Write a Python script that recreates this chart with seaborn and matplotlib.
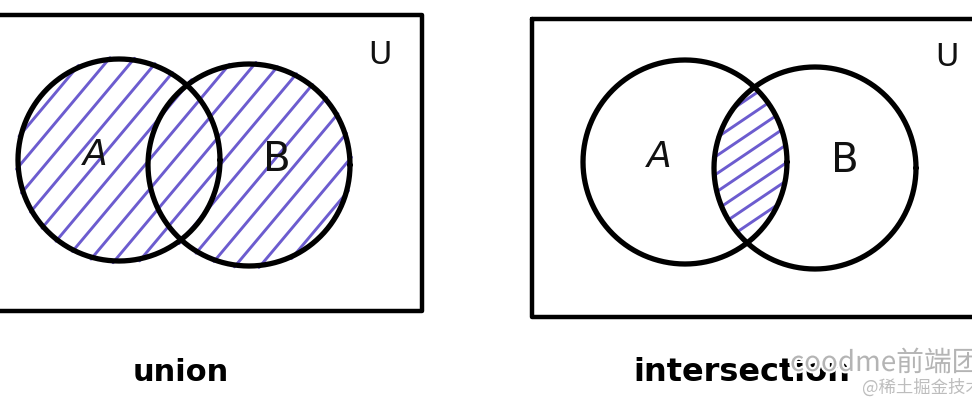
import numpy as np
import pandas as pd
import matplotlib.pyplot as plt
import matplotlib.patheffects as pe
import seaborn as sns

# --- diagram content (pixel units, y grows downwards) ---
PANELS = ['union', 'intersection']
SET_NAMES = ['A', 'B']
UNIVERSE = 'U'

# circle centres and radii, one pair per panel
CIRCLE_X = [[119, 249], [685, 815]]
CIRCLE_Y = [[161, 166], [163, 169]]
CIRCLE_R = [[101, 101], [102, 101]]

# universe rectangle per panel
RECT_LEFT = [-8, 532]
RECT_TOP = [16, 20]
RECT_RIGHT = [422, 995]
RECT_BOTTOM = [312, 318]

# label anchors
SET_LABEL_X = [[95, 277], [659, 845]]
SET_LABEL_Y = [[155, 160], [157, 161]]
U_LABEL_X = [380, 947]
U_LABEL_Y = [55, 58]
CAPTION_X = [181, 742]
CAPTION_Y = [373, 373]

WATERMARK = 'coodme前端团'
WATERMARK_SUB = '@稀土掘金技术'

HATCH = '#6c5ccf'

sns.set_theme(style='white')
plt.rcParams['font.family'] = ['DejaVu Sans', 'Noto Sans CJK SC']

fig = plt.figure(figsize=(9.72, 4.14), dpi=100)
ax = fig.add_axes([0, 0, 1, 1])

# outlines table: circles and rectangles as closed paths
rows = []
theta = np.linspace(0, 2 * np.pi, 361)
for p in range(len(PANELS)):
    for k in range(len(SET_NAMES)):
        xs = CIRCLE_X[p][k] + CIRCLE_R[p][k] * np.cos(theta)
        ys = CIRCLE_Y[p][k] + CIRCLE_R[p][k] * np.sin(theta)
        for i, (x, y) in enumerate(zip(xs, ys)):
            rows.append(('circle', f'c{p}{k}', i, x, y))
    rx = [RECT_LEFT[p], RECT_RIGHT[p], RECT_RIGHT[p], RECT_LEFT[p], RECT_LEFT[p]]
    ry = [RECT_TOP[p], RECT_TOP[p], RECT_BOTTOM[p], RECT_BOTTOM[p], RECT_TOP[p]]
    for i, (x, y) in enumerate(zip(rx, ry)):
        rows.append(('rect', f'r{p}', i, x, y))
outlines = pd.DataFrame(rows, columns=['kind', 'shape', 'order', 'x', 'y'])


def inside(p, k, x, y, pad=0.0):
    return (x - CIRCLE_X[p][k]) ** 2 + (y - CIRCLE_Y[p][k]) ** 2 <= (CIRCLE_R[p][k] + pad) ** 2


# hatching: union panel (steep lines, whole A ∪ B)
xs = np.arange(-20, 992, 0.5)
slope = np.tan(np.radians(50))
for c in np.arange(-200, 700, 25):
    ys = 160 - slope * (xs - c)
    m = inside(0, 0, xs, ys, 2) | inside(0, 1, xs, ys, 2)
    ax.plot(xs, np.where(m, ys, np.nan), color=HATCH, lw=2.1,
            solid_capstyle='round', zorder=1)

# hatching: intersection panel (shallower lines, only A ∩ B)
slope = np.tan(np.radians(34))
for c in np.arange(60, 380, 18):
    ys = c - slope * (xs - 700)
    m = inside(1, 0, xs, ys, 1) & inside(1, 1, xs, ys, 1)
    ax.plot(xs, np.where(m, ys, np.nan), color=HATCH, lw=2.1,
            solid_capstyle='round', zorder=1)

sns.lineplot(data=outlines[outlines.kind == 'rect'], x='x', y='y', units='shape',
             estimator=None, sort=False, color='black', linewidth=3.2,
             legend=False, ax=ax, zorder=2)
sns.lineplot(data=outlines[outlines.kind == 'circle'], x='x', y='y', units='shape',
             estimator=None, sort=False, color='black', linewidth=3.8,
             legend=False, ax=ax, zorder=3)

for p in range(len(PANELS)):
    for k, name in enumerate(SET_NAMES):
        ax.text(SET_LABEL_X[p][k], SET_LABEL_Y[p][k], name,
                fontsize=26 if name == 'A' else 29, style='italic' if name == 'A' else 'normal',
                ha='center', va='center', color='#111111', zorder=4)
    ax.text(U_LABEL_X[p], U_LABEL_Y[p], UNIVERSE, fontsize=23, ha='center', va='center',
            color='#111111', zorder=4)
    ax.text(CAPTION_X[p], CAPTION_Y[p], PANELS[p], fontsize=23 if p else 22,
            fontweight='bold', ha='center', va='center', color='black', zorder=4)

# watermark (partly cut off at the right edge, as in the source image)
halo = [pe.withStroke(linewidth=3, foreground='white')]
ax.text(790, 364, WATERMARK, fontsize=20, color='#b4b4b4', ha='left', va='center',
        family=['Noto Sans CJK SC', 'DejaVu Sans'], path_effects=halo, zorder=5)
ax.text(862, 388, WATERMARK_SUB, fontsize=12.5, color='#bdbdbd', ha='left', va='center',
        family=['Noto Sans CJK SC', 'DejaVu Sans'], zorder=5)

ax.set_xlim(0, 972)
ax.set_ylim(414, 0)
ax.axis('off')
fig.savefig('out.png', dpi=100, facecolor='white')
